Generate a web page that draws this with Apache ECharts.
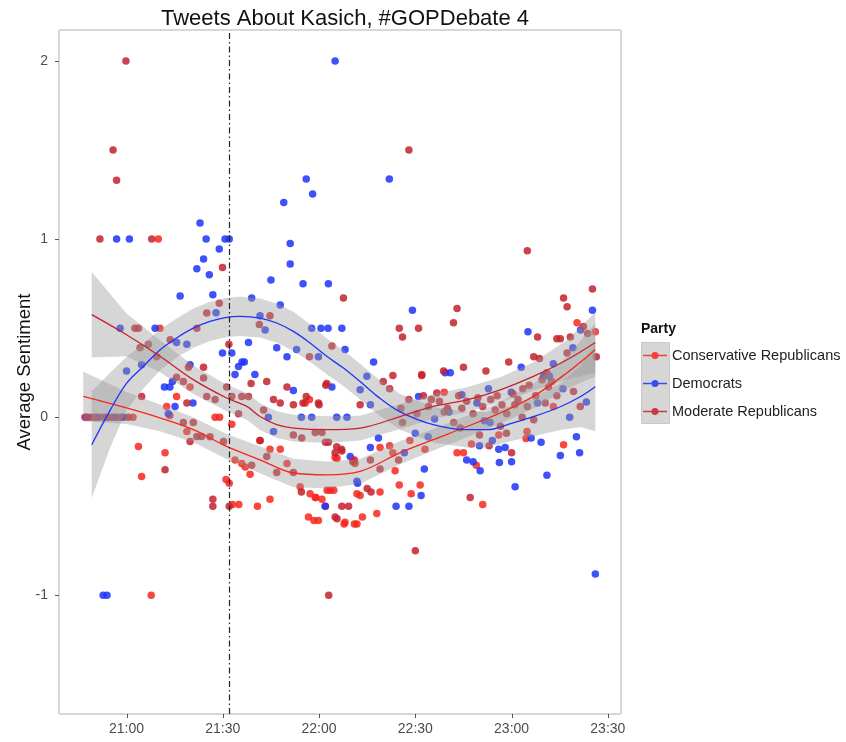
<!DOCTYPE html>
<html>
<head>
<meta charset="utf-8">
<script src="https://cdn.jsdelivr.net/npm/echarts@6/dist/echarts.min.js"></script>
<style>html,body{margin:0;padding:0;background:#fff}#c{width:846px;height:742px}</style>
</head>
<body>
<div id="c"></div>
<script>
// ---- data (x = minutes after 21:00, y = average sentiment) ----
const seriesNames = ['Conservative Republicans', 'Democrats', 'Moderate Republicans'];
const xTickValues = [0, 30, 60, 90, 120, 150];
const xTickLabels = ['21:00', '21:30', '22:00', '22:30', '23:00', '23:30'];
const yTickValues = [-1, 0, 1, 2];
const xRange = [-21.05, 154.1];
const yRange = [-1.666, 2.174];
const debateMarkX = 31.96;

const consPoints = [
  [-13,0],[-11,0],[-9,0],[-6.5,0],[-4,0],[-1.5,0],[2,0],[7.7,-1.0],[10.4,0.5],[9.9,1.0],
  [3.7,-0.164],[4.7,-0.333],[12,-0.2],[15.6,0.117],[19.8,0.17],[12.5,0.06],[13.5,0.01],[18.8,-0.08],
  [27.6,0],[29,0],[32.8,-0.04],[32,-0.37],[31,-0.35],[33,-0.49],[35,-0.49],[40.8,-0.5],[44.7,-0.46],
  [41.6,-0.13],[33.8,-0.24],[35.9,-0.26],[37,-0.28],[38.5,-0.32],[44.7,-0.18],[47.9,-0.18],[50,-0.26],
  [54.1,-0.39],[57.2,-0.43],[58.8,-0.45],[60.9,-0.46],[63.5,-0.41],[56.7,-0.56],[59.8,-0.58],[68.1,-0.59],
  [71.8,-0.6],[65,-0.226],[71.2,-0.26],[55.7,0.08],[57,0.1],[88.7,-0.43],[91.5,-0.38],[85,-0.38],[79,-0.42],
  [78,-0.54],[73.5,-0.56],[71.8,-0.43],[72.8,-0.44],[71,-0.6],[67.8,-0.6],[62.5,-0.41],[64.6,-0.41],
  [59,-0.45],[62,-0.5],[58.4,-0.58],[79,-0.17],[82,-0.16],[83,-0.2],[83.7,-0.3],[88.3,-0.13],
  [93,-0.18],[65.6,-0.23],[103,-0.2],[105,-0.2],[109,-0.27],[111,-0.49],[107.5,-0.15],[92,0.24],
  [124.8,-0.08],[124.5,-0.12],[136.2,-0.155],[133,0.06],[140.4,0.53],[146.1,0.48],[116,-0.1],[99,0.14]
];
const demPoints = [
  [-12.5,0],[-9,0],[-6,0],[-3.5,0],[-1,0],[-7.3,-1],[-6.1,-1],[-3.1,1.0],[0.9,1.0],[-2,0.5],[0,0.26],
  [4.7,0.295],[8.9,0.5],[22.9,1.09],[24.8,1.0],[30.7,1.0],[32,1.0],[28.9,0.944],[24,0.889],[21.9,0.834],
  [25.8,0.8],[16.7,0.68],[27.9,0.587],[26.9,0.688],[15.6,0.42],[18.8,0.41],[19.8,0.295],[14.3,0.2],
  [11.8,0.17],[13.5,0.17],[20.7,0.08],[15.1,0.06],[13,0.02],[65,2.0],[56,1.338],[58,1.254],[49,1.205],
  [51,0.975],[81.9,1.338],[39,0.67],[51,0.86],[45,0.77],[55,0.75],[62.9,0.75],[47.9,0.63],[41.6,0.57],
  [43.2,0.49],[38,0.42],[46.8,0.39],[50,0.34],[53,0.38],[57.7,0.5],[60.6,0.5],[62.8,0.5],[67.1,0.5],
  [68.1,0.38],[64,0.17],[59.8,0.34],[29.9,0.36],[32.8,0.36],[36,0.31],[36.7,0.31],[34.9,0.285],[33.8,0.24],
  [40,0.24],[52,0.15],[44.2,0],[54.5,0],[57.7,0],[65.5,0],[68.7,0],[45.8,-0.08],[61.9,-0.5],[69.7,-0.22],
  [71.8,-0.36],[89.1,0.6],[125.1,0.48],[123,0.28],[145.2,0.6],[139.1,0.39],[141.5,0.49],[133,0.3],
  [130,0.23],[131.8,0.23],[136,0.16],[143.3,0.085],[138.1,0],[128.1,0.08],[126.1,-0.117],[129.2,-0.14],
  [140.2,-0.11],[135.2,-0.215],[141.2,-0.2],[131,-0.325],[121.1,-0.39],[146.1,-0.88],[99.3,0.25],
  [100.9,0.25],[112.8,0.16],[119.9,0.14],[109.2,0.08],[104.5,0.126],[77,0.31],[74.9,0.23],[72.8,0.155],
  [76,0.07],[91,0.117],[106,-0.24],[108,-0.25],[110.2,-0.3],[116,-0.18],[116.2,-0.254],[118,-0.17],
  [114,-0.13],[92.8,-0.29],[91.8,-0.44],[84,-0.5],[88,-0.5],[72,-0.37],[78.5,-0.117],[76,-0.17],
  [90,-0.09],[86.6,-0.2],[96,-0.01],[94,-0.11],[100.5,0.03],[111.5,-0.02],[113.3,-0.03],[110,-0.16],[120,-0.25]
];
const modPoints = [
  [-12,0],[-10,0],[-7.5,0],[-5,0],[-2.5,0],[0.5,0],[-8.3,1.0],[-4.2,1.5],[-3.1,1.33],[-0.2,2.0],[7.85,1.0],
  [2.6,0.5],[3.7,0.5],[21.9,0.5],[28.9,0.64],[25,0.585],[29.9,0.84],[13.6,0.435],[6.8,0.41],[4.2,0.39],
  [9.4,0.34],[19.3,0.28],[24,0.28],[15.6,0.225],[17.7,0.2],[24,0.22],[31.2,0.17],[4.7,0.117],[25,0.117],
  [27.6,0.1],[18.8,0.08],[17.7,-0.03],[20.8,-0.03],[21.9,-0.108],[23.4,-0.108],[26,-0.11],[19.8,-0.136],
  [30.2,-0.136],[12,-0.295],[26.9,-0.46],[26.9,-0.5],[32,-0.5],[31.9,0.41],[41.4,0.52],[44.7,0.57],
  [67.6,0.67],[64,0.4],[57,0.34],[38.8,0.19],[43.7,0.2],[50,0.17],[62.1,0.18],[45.8,0.1],[47.9,0.08],
  [52,0.07],[55,0.08],[56,0.117],[59.8,0.08],[35.9,0.117],[38,0.117],[32.8,0.117],[34.9,0.02],[42.7,0.04],
  [52,-0.1],[54.6,-0.117],[58.8,-0.085],[60.9,-0.085],[62.9,-0.14],[65.5,-0.165],[67.1,-0.19],[71,-0.24],
  [41.6,-0.13],[43.7,-0.22],[39,-0.27],[46.8,-0.31],[52,-0.31],[54.5,-0.42],[65,-0.56],[63,-1.0],
  [90,-0.75],[88,1.5],[124.9,0.935],[103,0.61],[101.9,0.53],[85,0.5],[91,0.5],[86,0.45],[136.2,0.67],
  [137.3,0.62],[145.2,0.72],[128.1,0.45],[119.1,0.31],[126.9,0.34],[128.7,0.33],[134.1,0.44],[135.2,0.44],
  [138.3,0.45],[142.4,0.51],[143.7,0.47],[146.4,0.34],[137.3,0.36],[131,0.25],[131.5,0.17],[134.1,0.12],
  [139.3,0.145],[141.4,0.06],[124.9,0.06],[126.9,-0.014],[123.3,0],[98.8,0.26],[105,0.28],[112,0.26],
  [92,0.235],[83,0.235],[80,0.2],[82,0.16],[72.8,0.07],[60,0.07],[62.4,0.19],[86,-0.03],[107.1,-0.45],
  [75,-0.4],[76.2,-0.42],[67.1,-0.5],[69.2,-0.5],[65.6,-0.57],[70.5,-0.25],[76,-0.24],[79,-0.29],
  [84.8,-0.24],[62,-0.14],[65,-0.2],[67,-0.18],[120,-0.2],[113,-0.16],[118.4,-0.09],[96.7,0.136],
  [94.1,0.06],[99,0.03],[102,-0.03],[114.9,0.04],[121,0.07],[95,0.1],[97.5,0.09],[100,0.05],[103.5,0.12],
  [104.5,0.05],[106,0.09],[108,0.02],[109.5,0.11],[111,0.06],[113.5,0.1],[115.5,0.12],[117,0.07],
  [118.5,0.02],[120.5,0.13],[122,0.1],[123.5,0.16],[125.5,0.18],[127.5,0.12],[129.5,0.21],[130.5,0.08],
  [132.5,0.2],[104,-0.06],[110,-0.1],[116.5,-0.05],[85.5,0.05],[88,0.1],[90.5,0.02],[92.5,0.12]
];

// loess fits and their standard-error half widths
const consFitX = [-13.5,0,10.4,20.8,31.2,41.6,52,62.4,72.8,85.3,95.6,106.1,116.5,126.8,137.3,146.1];
const consFitY = [0.117,0.052,-0.004,-0.07,-0.164,-0.239,-0.313,-0.323,-0.304,-0.199,-0.126,-0.052,0.025,0.117,0.25,0.379];
const consFitSE = [0.14,0.09,0.075,0.07,0.07,0.075,0.08,0.075,0.07,0.065,0.06,0.06,0.06,0.07,0.09,0.15];

const demFitX = [-10.85,-5.1,0,5.2,10.5,15.6,20.8,26,31.2,35.4,41.6,46.8,52,57.2,62.4,67.6,72.8,78,85.3,95.6,106,112.3,120.5,126.8,135.2,141.4,146.1];
const demFitY = [-0.154,0.04,0.19,0.285,0.379,0.445,0.5,0.538,0.561,0.566,0.557,0.529,0.482,0.417,0.342,0.276,0.2,0.12,0.03,-0.042,-0.07,-0.07,-0.031,0.003,0.059,0.115,0.171];
const demFitSE = [0.3,0.21,0.15,0.125,0.115,0.11,0.11,0.11,0.11,0.11,0.11,0.11,0.11,0.105,0.1,0.1,0.1,0.1,0.1,0.1,0.1,0.1,0.1,0.11,0.13,0.17,0.25];

const modFitX = [-10.85,0,10.45,20.8,31.2,37.5,41.6,46.8,52,62.4,72.8,85.3,95.6,106.1,116.5,126.8,137.3,146.1];
const modFitY = [0.576,0.463,0.342,0.211,0.108,0.061,0.004,-0.042,-0.061,-0.07,-0.061,0.004,0.061,0.098,0.154,0.229,0.323,0.42];
const modFitSE = [0.24,0.12,0.09,0.08,0.075,0.075,0.075,0.075,0.075,0.075,0.07,0.07,0.07,0.07,0.07,0.08,0.11,0.17];

// ---- styling ----
const colors = ['#f8261c', '#1d34f8', '#c4222e'];
const bandFill = 'rgba(153,153,153,0.4)';
const FONT = 'Liberation Sans, Arial, sans-serif';

function scatter(name, data, color) {
  return {
    name, type: 'scatter', data, symbolSize: 7.5, z: 2,
    itemStyle: { color, opacity: 0.85 }, emphasis: { disabled: true }
  };
}
function band(name, xs, ys, se) {
  return {
    name, type: 'custom', z: 3, silent: true,
    data: xs.map((x, i) => [x, ys[i], se[i]]),
    renderItem(params, api) {
      if (params.dataIndex !== 0) return null;
      const pts = [];
      for (let i = 0; i < xs.length; i++) pts.push(api.coord([xs[i], ys[i] + se[i]]));
      for (let i = xs.length - 1; i >= 0; i--) pts.push(api.coord([xs[i], ys[i] - se[i]]));
      return { type: 'polygon', shape: { points: pts }, style: { fill: bandFill } };
    }
  };
}
function fitLine(name, xs, ys, color) {
  return {
    name, type: 'line', z: 4, smooth: 0.35, showSymbol: false, silent: true,
    data: xs.map((x, i) => [x, ys[i]]),
    lineStyle: { color, width: 1.3 }
  };
}

const chart = echarts.init(document.getElementById('c'), null, { renderer: 'canvas' });
const series = [
  scatter(seriesNames[0], consPoints, colors[0]),
  scatter(seriesNames[1], demPoints, colors[1]),
  scatter(seriesNames[2], modPoints, colors[2]),
  band('band-cons', consFitX, consFitY, consFitSE),
  band('band-dem', demFitX, demFitY, demFitSE),
  band('band-mod', modFitX, modFitY, modFitSE),
  fitLine('fit-cons', consFitX, consFitY, colors[0]),
  fitLine('fit-dem', demFitX, demFitY, colors[1]),
  fitLine('fit-mod', modFitX, modFitY, colors[2])
];
series[0].markLine = {
  silent: true, symbol: 'none', label: { show: false },
  lineStyle: { color: '#222', width: 1.2, type: [6, 3, 1.5, 3] },
  data: [{ xAxis: debateMarkX }]
};

const staticGraphics = [
  { id: 'keybox', type: 'rect', left: 641, top: 342, z: 0, shape: { width: 28, height: 81 }, style: { fill: '#d6d6d6', stroke: '#c8c8c8' } },
  { id: 'party', type: 'text', left: 641, top: 322, style: { text: 'Party', font: 'bold 14px ' + FONT, fill: '#111' } }
];

chart.setOption({
  backgroundColor: '#ffffff',
  animation: false,
  textStyle: { fontFamily: FONT },
  title: {
    text: 'Tweets About Kasich, #GOPDebate 4',
    left: 340, top: 3, textAlign: 'center',
    textStyle: { fontSize: 22, fontWeight: 'normal', color: '#111', fontFamily: FONT }
  },
  grid: { left: 59, right: 225, top: 30, bottom: 28, show: true, borderColor: '#b0b0b0', borderWidth: 1, backgroundColor: '#fff', containLabel: false, outerBoundsMode: 'none' },
  legend: {
    data: seriesNames, orient: 'vertical', left: 643, top: 348, padding: 0,
    itemWidth: 24, itemHeight: 14, itemGap: 13,
    icon: 'path://M0,6.2 L24,6.2 L24,7.8 L0,7.8 Z M12,3.5 A3.5,3.5 0 1,1 11.99,3.5 Z',
    textStyle: { fontSize: 14.5, color: '#222' },
    selectedMode: false
  },
  graphic: staticGraphics,
  xAxis: {
    type: 'value', min: xRange[0], max: xRange[1],
    axisLine: { show: false },
    splitLine: { show: false },
    axisTick: { show: false },
    axisLabel: {
      customValues: xTickValues, margin: 8, fontSize: 14, color: '#4d4d4d',
      formatter: v => xTickLabels[xTickValues.indexOf(Math.round(v))] || ''
    }
  },
  yAxis: {
    type: 'value', min: yRange[0], max: yRange[1],
    name: 'Average Sentiment', nameLocation: 'middle', nameGap: 25, nameMoveOverlap: false,
    nameTextStyle: { fontSize: 18.5, color: '#111' },
    axisLine: { show: false },
    splitLine: { show: false },
    axisTick: { show: false },
    axisLabel: { customValues: yTickValues, margin: 11, fontSize: 14, color: '#4d4d4d' }
  },
  series
});

// tick marks placed through the library's own axis scales
const left = chart.convertToPixel({ xAxisIndex: 0 }, xRange[0]);
const bottom = chart.convertToPixel({ yAxisIndex: 0 }, yRange[0]);
const tickGraphics = [];
xTickValues.forEach((v, i) => {
  const px = Math.round(chart.convertToPixel({ xAxisIndex: 0 }, v)) + 0.5;
  tickGraphics.push({ id: 'xt' + i, type: 'line', z: 10, shape: { x1: px, y1: bottom, x2: px, y2: bottom + 4 }, style: { stroke: '#555', lineWidth: 1 } });
});
yTickValues.forEach((v, i) => {
  const py = Math.round(chart.convertToPixel({ yAxisIndex: 0 }, v)) + 0.5;
  tickGraphics.push({ id: 'yt' + i, type: 'line', z: 10, shape: { x1: left - 4, y1: py, x2: left, y2: py }, style: { stroke: '#555', lineWidth: 1 } });
});
chart.setOption({ graphic: staticGraphics.concat(tickGraphics) });
</script>
</body>
</html>
